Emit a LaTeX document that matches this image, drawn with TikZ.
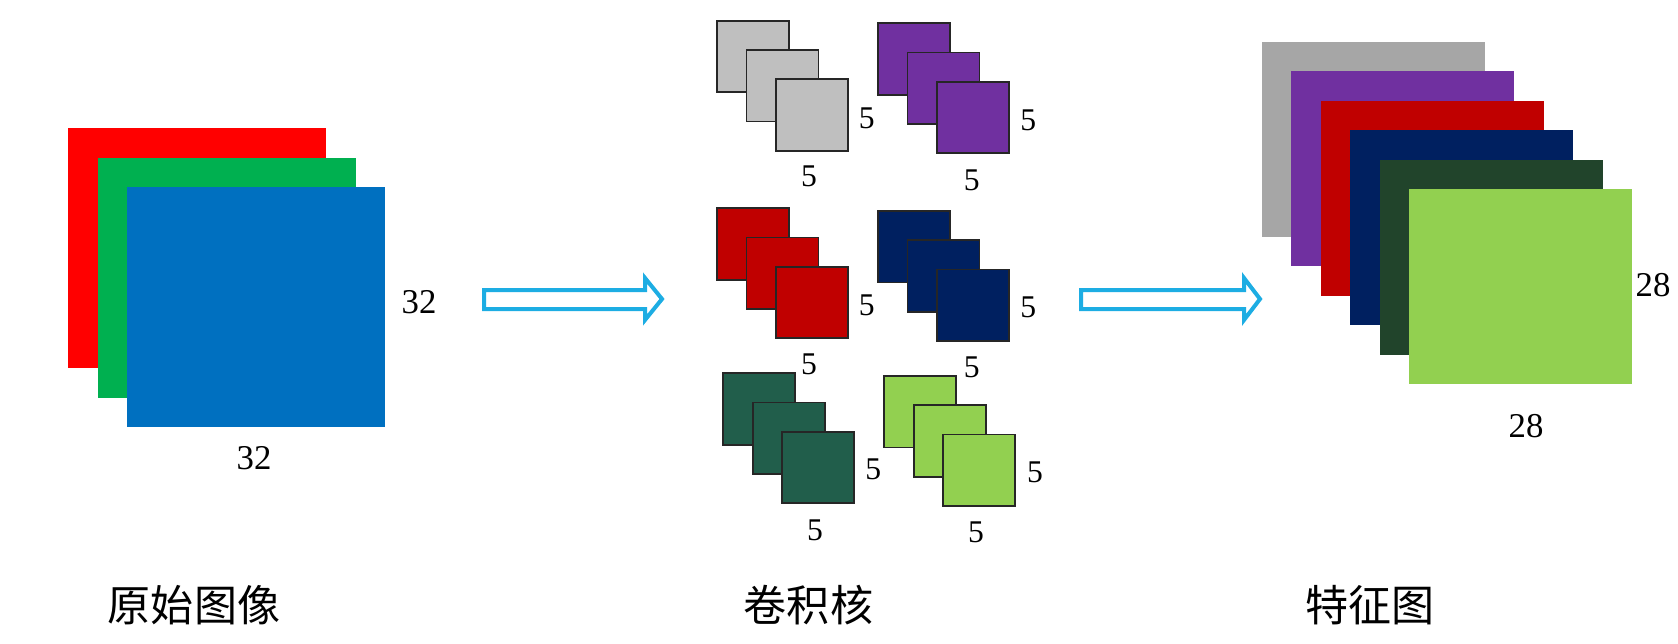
\documentclass[tikz,border=0pt]{standalone}
\usepackage{fontspec}
\usepackage{tikz}
\setmainfont{Liberation Serif}
\newfontfamily\cjk{Noto Sans CJK SC}

\definecolor{imgred}{HTML}{FF0000}
\definecolor{imggreen}{HTML}{00B050}
\definecolor{imgblue}{HTML}{0070C0}
\definecolor{kgray}{HTML}{BFBFBF}
\definecolor{fgray}{HTML}{A6A6A6}
\definecolor{kpurple}{HTML}{7030A0}
\definecolor{kred}{HTML}{C00000}
\definecolor{knavy}{HTML}{002060}
\definecolor{kdkgreen}{HTML}{215E4B}
\definecolor{fdkgreen}{HTML}{21442B}
\definecolor{kltgreen}{HTML}{92D050}
\definecolor{arrowblue}{HTML}{1DADE3}

\tikzset{
  kernel/.style={draw=black!85, line width=1pt},
  dim/.style={font=\fontsize{19.8}{22}\selectfont, inner sep=0pt},
  kdim/.style={font=\fontsize{18}{20}\selectfont, inner sep=0pt},
  caption/.style={font=\cjk\fontsize{24.5}{28}\selectfont, inner sep=0pt},
  hollowarrow/.style={draw=arrowblue, fill=white, line width=0.08cm}
}

\begin{document}
\begin{tikzpicture}[x=0.02cm, y=-0.02cm]
\useasboundingbox (0,0) rectangle (1678,643);

% input image
\fill[imgred] (68,128) rectangle +(258,240);
\fill[imggreen] (97.5,157.5) rectangle +(258,240);
\fill[imgblue] (127,187) rectangle +(258,240);
\node[dim] (imgh) at (419,302) {32};
\node[dim] (imgw) at (254,458) {32};

% arrows
\draw[hollowarrow] (484,290) -- (645,290) -- (645,278) -- (662,299) -- (645,320) -- (645,309) -- (484,309) -- cycle;
\draw[hollowarrow] (1081,290) -- (1244,290) -- (1244,278) -- (1260,299) -- (1244,320) -- (1244,309) -- (1081,309) -- cycle;

% kernels
\foreach \k in {0,1,2} {
  \filldraw[kernel, fill=kgray] (717+29.5*\k,20.7+29.2*\k) rectangle +(72,71.6);
  \filldraw[kernel, fill=kpurple] (878+29.5*\k,23.3+29.2*\k) rectangle +(72,71.6);
  \filldraw[kernel, fill=kred] (717+29.5*\k,208.3+29.2*\k) rectangle +(72,71.6);
  \filldraw[kernel, fill=knavy] (878+29.5*\k,211+29.2*\k) rectangle +(72,71.6);
  \filldraw[kernel, fill=kdkgreen] (723.3+29.5*\k,373.3+29.2*\k) rectangle +(72,71.6);
  \filldraw[kernel, fill=kltgreen] (884.3+29.5*\k,376+29.2*\k) rectangle +(72,71.6);
}
\node[kdim] (grayh) at (866.7,118) {5};
\node[kdim] (grayw) at (809,176.7) {5};
\node[kdim] (purph) at (1028.3,120.7) {5};
\node[kdim] (purpw) at (971.7,180) {5};
\node[kdim] (redh) at (866.7,305) {5};
\node[kdim] (redw) at (809,364) {5};
\node[kdim] (navyh) at (1028.3,307.3) {5};
\node[kdim] (navyw) at (971.7,367) {5};
\node[kdim] (dkgrh) at (873.3,469.3) {5};
\node[kdim] (dkgrw) at (815,530) {5};
\node[kdim] (ltgrh) at (1035,472.7) {5};
\node[kdim] (ltgrw) at (976,532.7) {5};

% feature maps
\fill[fgray] (1262,42) rectangle +(223,195);
\fill[kpurple] (1291.4,71.4) rectangle +(223,195);
\fill[kred] (1320.8,100.8) rectangle +(223,195);
\fill[knavy] (1350.2,130.2) rectangle +(223,195);
\fill[fdkgreen] (1379.6,159.6) rectangle +(223,195);
\fill[kltgreen] (1409,189) rectangle +(223,195);
\node[dim] (feath) at (1653,285) {28};
\node[dim] (featw) at (1526,426) {28};

% captions
\node[caption] (capimg) at (194,605) {原始图像};
\node[caption] (capker) at (808.5,605) {卷积核};
\node[caption] (capfeat) at (1370,605) {特征图};
\end{tikzpicture}
\end{document}
